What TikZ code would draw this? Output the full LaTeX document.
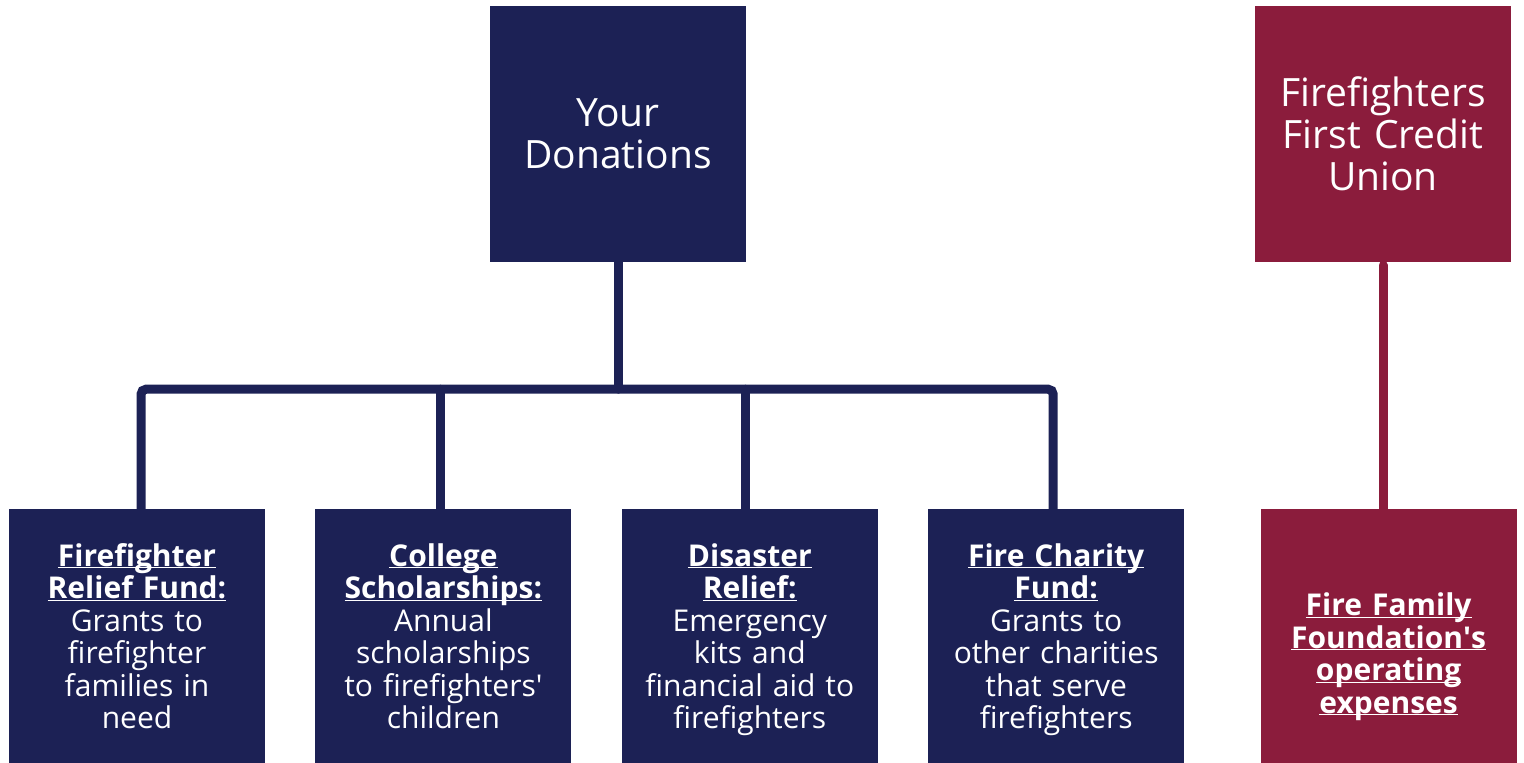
\documentclass[tikz,border=0pt]{standalone}
\usepackage{fontspec}
\setmainfont{Open Sans}
\usetikzlibrary{positioning}
\usepackage{xcolor}
\definecolor{donationnavy}{RGB}{28,33,85}
\definecolor{unionred}{RGB}{139,28,60}
\newcommand{\hdr}[1]{\underline{\raisebox{0pt}[\height][0pt]{\textbf{#1}}}}

\begin{document}
\begin{tikzpicture}[x=1pt, y=1pt,
  node distance=247pt and 50pt,
  box/.style={rectangle, fill=donationnavy, text=white, minimum width=256pt, text width=250pt, align=center, inner sep=0pt},
  fund/.style={box, minimum height=254pt, font=\fontsize{30}{32.5}\selectfont,
    execute at begin node={\rule{0pt}{30pt}}, execute at end node={\rule[-7.5pt]{0pt}{0pt}}},
  source/.style={box, minimum height=256pt, font=\fontsize{39}{42}\selectfont},
  union/.style={fill=unionred},
  bus/.style={line width=9pt, donationnavy, line cap=round, rounded corners=5pt}
]
\useasboundingbox (0,0) rectangle (1524,-763);

% Top Nodes
\node[source] (donate) at (618,-134) {Your\\ Donations};

% Funds
\node[fund] (relief) at (137,-636) {\hdr{Firefighter}\\ \hdr{Relief Fund:}\\ Grants to\\ firefighter\\ families in\\ need};
\node[fund] (scholar) [right=of relief] {\hdr{College}\\ \hdr{Scholarships:}\\ Annual\\ scholarships\\ to firefighters\textquotesingle\\ children};
\node[fund] (disaster) [right=of scholar] {\hdr{Disaster}\\ \hdr{Relief:}\\ Emergency\\ kits and\\ financial aid to\\ firefighters};
\node[fund] (charity) [right=of disaster] {\hdr{Fire Charity}\\ \hdr{Fund:}\\ Grants to\\ other charities\\ that serve\\ firefighters};

% Credit Union branch
\node[fund, union] (foundation) [right=76pt of charity] {\mbox{}\\[2pt] \hdr{Fire Family}\\ \hdr{Foundation\textquotesingle s}\\ \hdr{operating}\\ \hdr{expenses}};
\node[source, union] (creditunion) at (1383,-134) {Firefighters\\ First Credit\\ Union};

% Connectors
\path (donate.south) ++(0,-127) coordinate (hub);
\draw[bus] (donate) -- (hub);
\draw[bus] ([xshift=4pt]relief.north) |- (hub) -| ([xshift=-3pt]charity.north);
\draw[bus] ([xshift=-3pt]scholar.north) -- ([xshift=-3pt]scholar.north |- hub);
\draw[bus] ([xshift=-4pt]disaster.north) -- ([xshift=-4pt]disaster.north |- hub);
\draw[bus, unionred] ([yshift=-3pt]creditunion.south) -- (creditunion |- foundation.north);

\end{tikzpicture}
\end{document}
